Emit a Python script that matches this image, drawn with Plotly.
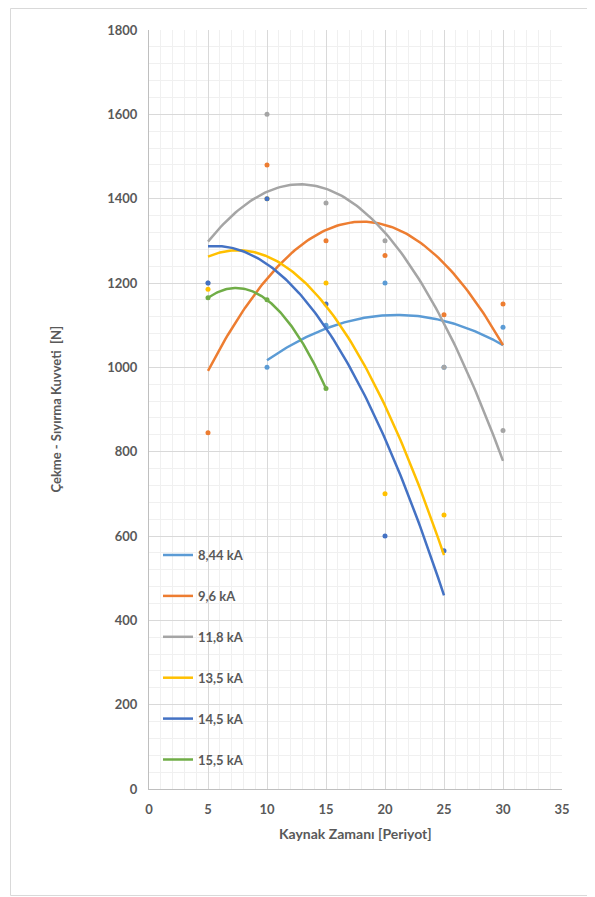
import numpy as np
import plotly.graph_objects as go

# ---- data ----
x_periods = [5, 10, 15, 20, 25, 30]
y_8_44 = [None, 1000, 1100, 1200, 1000, 1095]
y_9_6 = [845, 1480, 1300, 1265, 1125, 1150]
y_11_8 = [1200, 1600, 1390, 1300, 1000, 850]
y_13_5 = [1185, 1400, 1200, 700, 650, None]
y_14_5 = [1200, 1400, 1150, 600, 565, None]
y_15_5 = [1165, 1160, 950, None, None, None]

series_names = ["8,44 kA", "9,6 kA", "11,8 kA", "13,5 kA", "14,5 kA", "15,5 kA"]
series_values = [y_8_44, y_9_6, y_11_8, y_13_5, y_14_5, y_15_5]
colors = ["#5B9BD5", "#ED7D31", "#A5A5A5", "#FFC000", "#4472C4", "#70AD47"]

x_ticks = [0, 5, 10, 15, 20, 25, 30, 35]
y_ticks = [0, 200, 400, 600, 800, 1000, 1200, 1400, 1600, 1800]

FONT = "Lato"
GREY = "#595959"

# page has an 8px body margin; figure sized to fit the window
W, H = 587, 889
ML, MR, MT, MB = 141, 33, 22, 108
PW = W - ML - MR
PH = H - MT - MB

fig = go.Figure()

# data points
for name, vals, col in zip(series_names, series_values, colors):
    xs = [x for x, v in zip(x_periods, vals) if v is not None]
    ys = [v for v in vals if v is not None]
    fig.add_trace(go.Scatter(x=xs, y=ys, mode="markers", name=name,
                             marker=dict(color=col, size=5),
                             showlegend=False, hoverinfo="x+y"))

# polynomial (order 2) trendlines
for i, (name, vals, col) in enumerate(zip(series_names, series_values, colors)):
    xs = np.array([x for x, v in zip(x_periods, vals) if v is not None], float)
    ys = np.array([v for v in vals if v is not None], float)
    coeffs = np.polyfit(xs, ys, 2)
    xf = np.linspace(xs.min(), xs.max(), 120)
    yf = np.polyval(coeffs, xf)
    fig.add_trace(go.Scatter(x=xf, y=yf, mode="lines", name=name,
                             line=dict(color=col, width=2.5),
                             legendgroup=f"g{i}", showlegend=True))

fig.update_layout(
    width=W, height=H,
    margin=dict(l=ML, r=MR, t=MT, b=MB),
    paper_bgcolor="white", plot_bgcolor="white",
    font=dict(family=FONT, color=GREY),
    xaxis=dict(range=[0, 35], tickvals=x_ticks, showgrid=True,
               gridcolor="#D9D9D9", gridwidth=1,
               minor=dict(dtick=1, showgrid=True, gridcolor="#F0F0F0", gridwidth=1),
               showline=True, linecolor="#BFBFBF", linewidth=1,
               zeroline=False, ticks="", ticklabelstandoff=8,
               tickfont=dict(family=FONT, size=13, color=GREY, weight="bold")),
    yaxis=dict(range=[0, 1800], tickvals=y_ticks, showgrid=True,
               gridcolor="#D9D9D9", gridwidth=1,
               minor=dict(dtick=40, showgrid=True, gridcolor="#F0F0F0", gridwidth=1),
               showline=True, linecolor="#BFBFBF", linewidth=1,
               zeroline=False, ticks="", ticklabelstandoff=8,
               tickfont=dict(family=FONT, size=13, color=GREY, weight="bold")),
    legend=dict(x=9 / PW, y=0.328, xanchor="left", yanchor="top",
                bgcolor="rgba(0,0,0,0)", tracegroupgap=21,
                font=dict(family=FONT, size=13, color=GREY, weight="bold")),
    showlegend=True,
)

fig.add_annotation(text="Çekme - Sıyırma Kuvveti  [N]", xref="paper", yref="paper",
                   x=(55 - 149) / PW, y=0.5, xanchor="center", yanchor="middle",
                   textangle=-90, showarrow=False,
                   font=dict(family=FONT, size=13, color=GREY, weight="bold"))
fig.add_annotation(text="Kaynak Zamanı [Periyot]", xref="paper", yref="paper",
                   x=0.5, y=(789 - 833) / PH, xanchor="center", yanchor="middle",
                   showarrow=False,
                   font=dict(family=FONT, size=14, color=GREY, weight="bold"))

# outer chart border: left, top and bottom edges (right edge lies off-page)
bx0 = (10.5 - 8 - ML) / PW
bx1 = (W - ML) / PW
by0 = (PH + MT - (895.5 - 8)) / PH
by1 = (PH + MT - 0.5) / PH
for (x0, y0, x1, y1) in [(bx0, by0, bx0, by1), (bx0, by1, bx1, by1), (bx0, by0, bx1, by0)]:
    fig.add_shape(type="line", xref="paper", yref="paper", x0=x0, y0=y0, x1=x1, y1=y1,
                  line=dict(color="#D9D9D9", width=1), layer="below")

fig.write_html("out.html")
